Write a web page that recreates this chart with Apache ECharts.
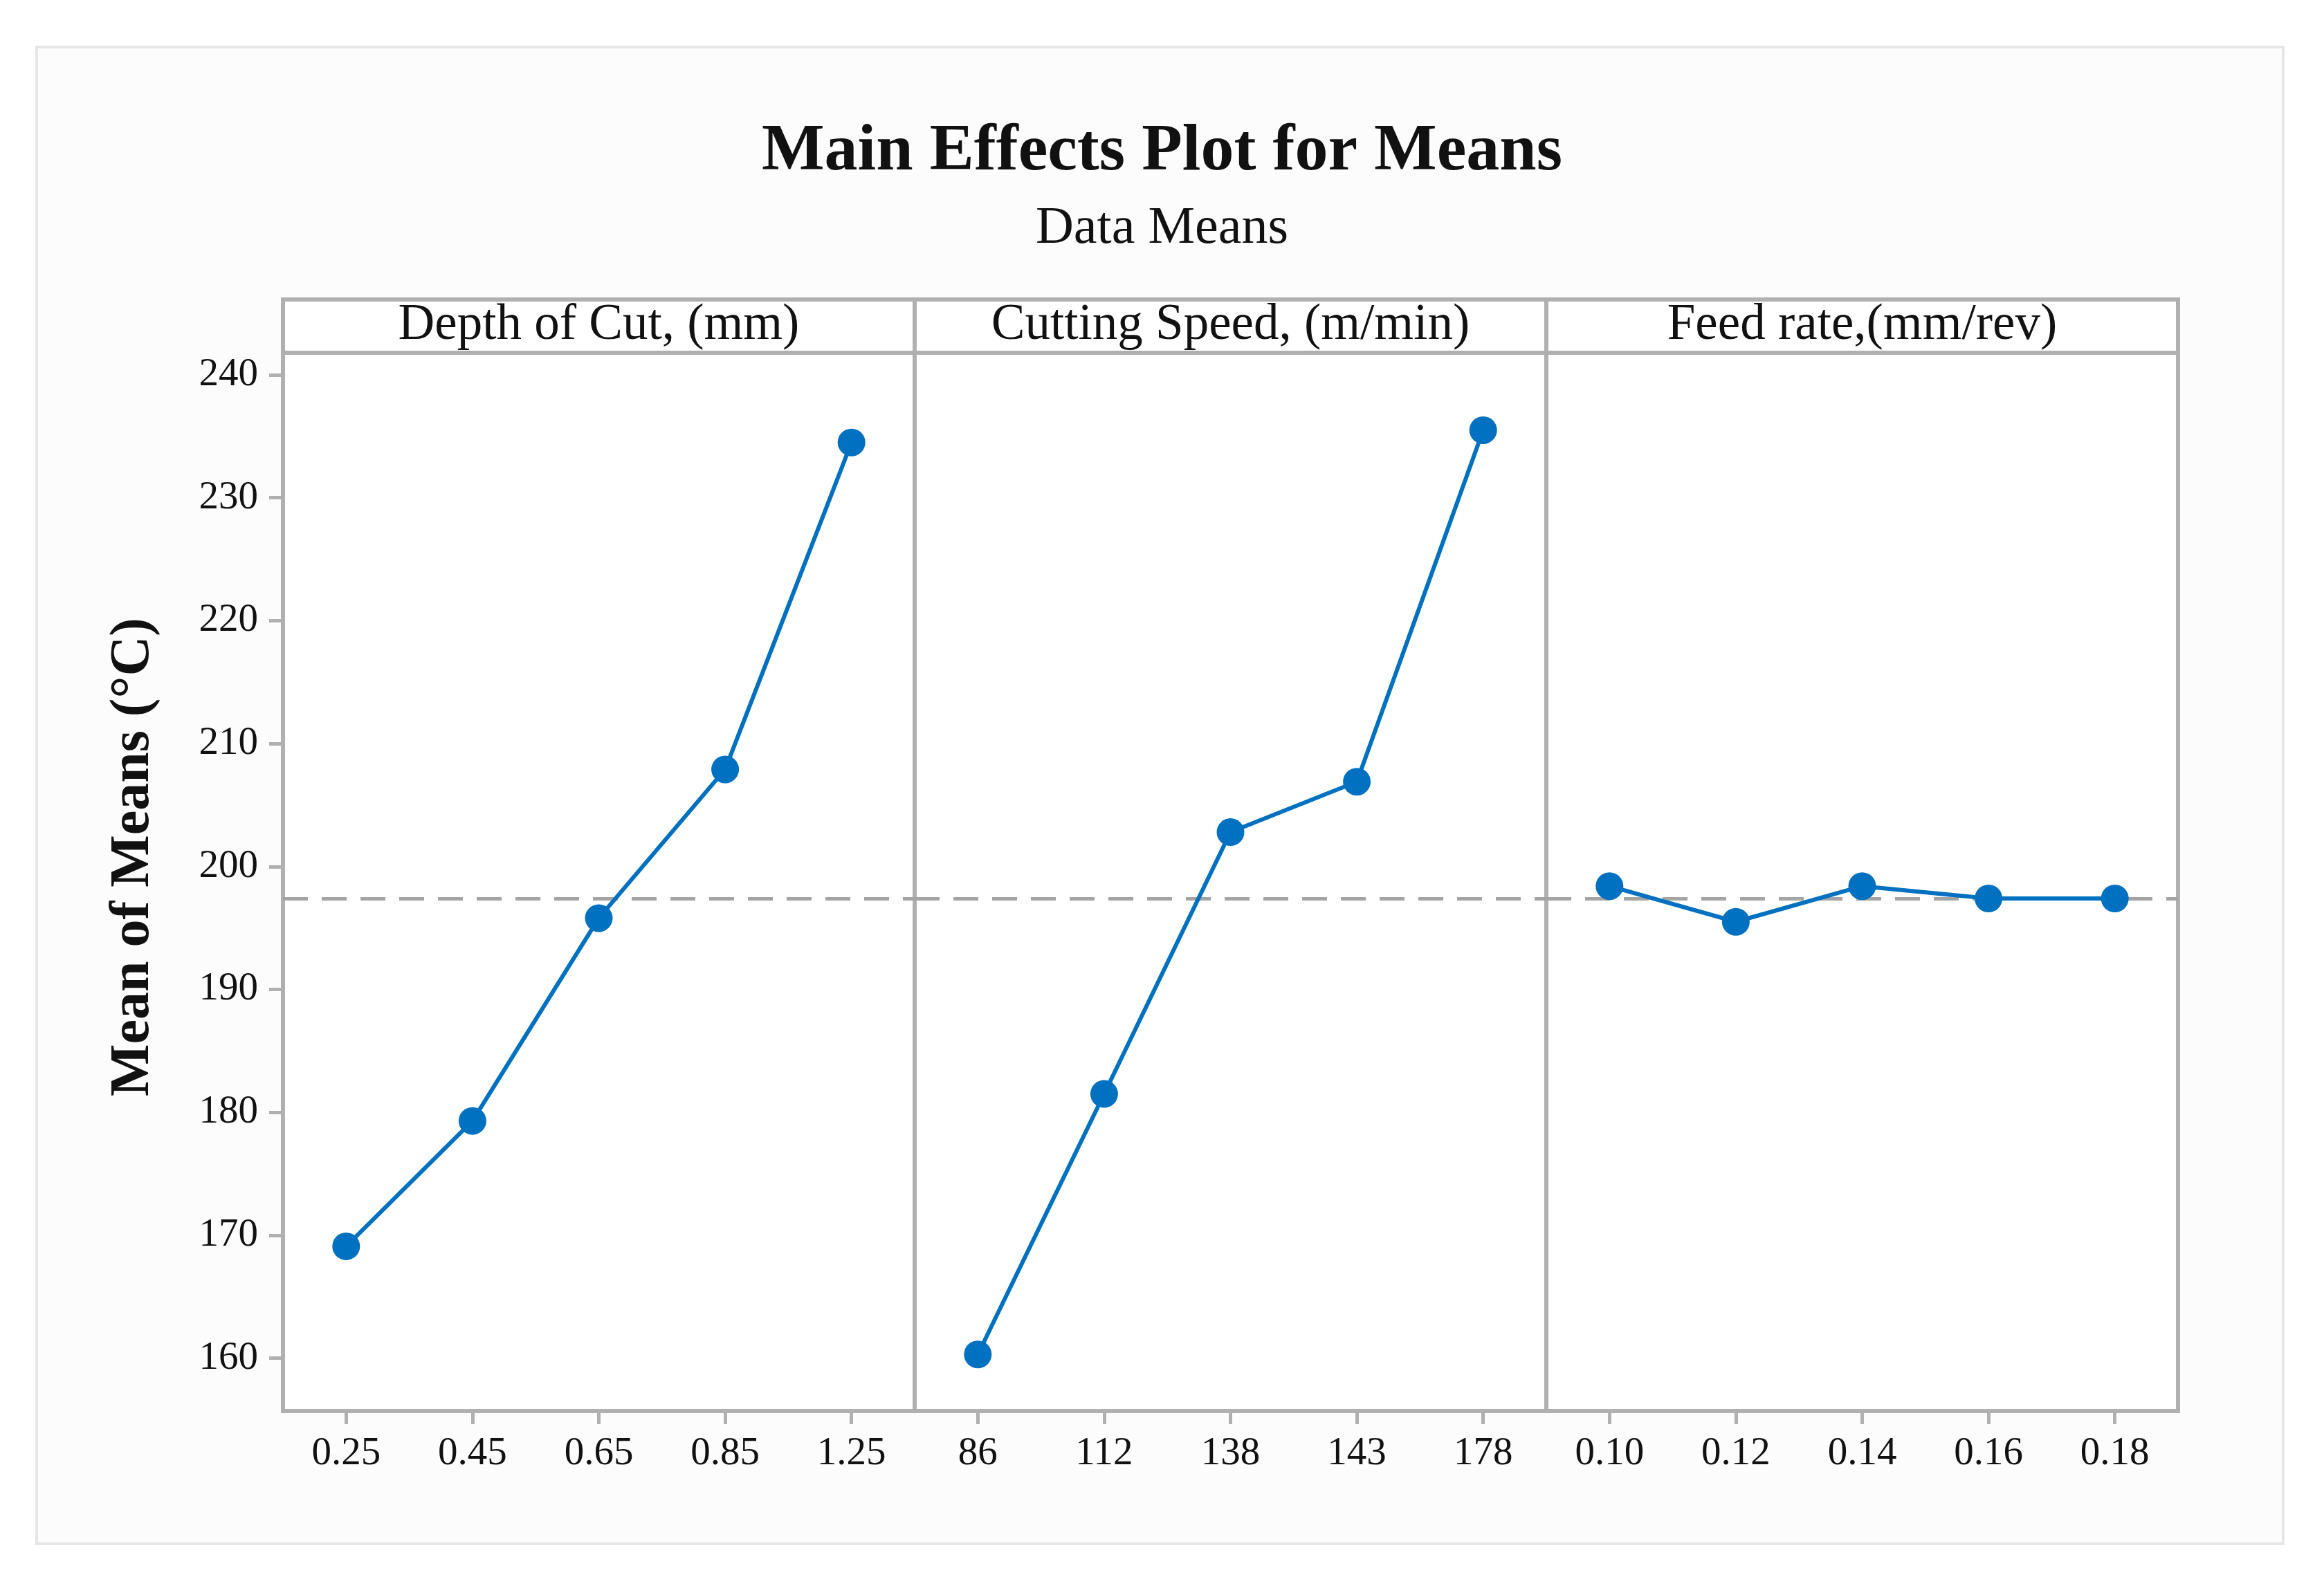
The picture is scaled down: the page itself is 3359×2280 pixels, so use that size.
<!DOCTYPE html>
<html><head><meta charset="utf-8">
<script src="https://cdn.jsdelivr.net/npm/echarts@6/dist/echarts.min.js"></script>
<style>html,body{margin:0;padding:0;background:#fff}#c{width:3359px;height:2280px}</style>
</head><body><div id="c"></div>
<script>
// ---- data ----
const chartTitle = 'Main Effects Plot for Means';
const chartSubtitle = 'Data Means';
const yAxisTitle = 'Mean of Means (°C)';
const factorNames = ['Depth of Cut, (mm)', 'Cutting Speed, (m/min)', 'Feed rate,(mm/rev)'];
const depthLevels = ['0.25', '0.45', '0.65', '0.85', '1.25'];
const speedLevels = ['86', '112', '138', '143', '178'];
const feedLevels = ['0.10', '0.12', '0.14', '0.16', '0.18'];
const depthMeans = [169.1, 179.3, 195.8, 207.9, 234.5];
const speedMeans = [160.3, 181.5, 202.8, 206.9, 235.5];
const feedMeans = [198.4, 195.5, 198.4, 197.4, 197.4];
const yTicks = [160, 170, 180, 190, 200, 210, 220, 230, 240];
const yMin = 155.7, yMax = 241.8;

// ---- build ----
const levels = [depthLevels, speedLevels, feedLevels];
const means = [depthMeans, speedMeans, feedMeans];
const all = [].concat(depthMeans, speedMeans, feedMeans);
const grandMean = all.reduce((a, b) => a + b, 0) / all.length;

const FONT = '"Liberation Serif", "Times New Roman", serif';
const GRAY = '#b0b0b0';
const BLUE = '#0070c0';
const PL = 409, PR = 3148, PT = 510, PB = 2040, HT = 433;
const W = (PR - PL) / 3;

const grids = [], xAxes = [], yAxes = [], series = [];
for (let i = 0; i < 3; i++) {
  grids.push({ left: PL + i * W, top: PT, width: W, height: PB - PT, show: true,
    backgroundColor: '#ffffff', borderColor: GRAY, borderWidth: 6 });
  xAxes.push({ type: 'category', gridIndex: i, data: levels[i], boundaryGap: true,
    axisLine: { show: true, lineStyle: { color: GRAY, width: 6 } },
    axisTick: { show: true, alignWithLabel: true, interval: 0, length: 19, lineStyle: { color: GRAY, width: 5 } },
    axisLabel: { interval: 0, fontFamily: FONT, fontSize: 57, color: '#111', margin: 34 },
    splitLine: { show: false } });
  yAxes.push({ type: 'value', gridIndex: i, min: yMin, max: yMax,
    axisLine: { show: i === 0, lineStyle: { color: GRAY, width: 6 } },
    axisTick: { show: i === 0, customValues: yTicks, length: 20, lineStyle: { color: GRAY, width: 5 } },
    axisLabel: { show: i === 0, customValues: yTicks, fontFamily: FONT, fontSize: 57, color: '#111', margin: 36 },
    splitLine: { show: false } });
  series.push({ type: 'line', xAxisIndex: i, yAxisIndex: i, data: [], z: 1, silent: true,
    markLine: { z: 1, silent: true, symbol: ['none', 'none'], label: { show: false },
      lineStyle: { color: '#a4a4a4', type: [36, 20], width: 5 },
      data: [{ yAxis: grandMean }] } });
  series.push({ type: 'line', xAxisIndex: i, yAxisIndex: i, data: means[i], z: 3,
    symbol: 'circle', symbolSize: 40, lineStyle: { color: BLUE, width: 6 },
    itemStyle: { color: BLUE }, animation: false });
}

const graphics = [
  { type: 'rect', z: -10, shape: { x: 53, y: 68, width: 3247, height: 2164 },
    style: { fill: '#fcfcfc', stroke: '#e6e6e6', lineWidth: 4 } },
  { type: 'rect', shape: { x: PL, y: HT, width: PR - PL, height: PT - HT },
    style: { fill: '#ffffff', stroke: GRAY, lineWidth: 6 } },
  { type: 'line', shape: { x1: PL + W, y1: HT, x2: PL + W, y2: PT }, style: { stroke: GRAY, lineWidth: 6 } },
  { type: 'line', shape: { x1: PL + 2 * W, y1: HT, x2: PL + 2 * W, y2: PT }, style: { stroke: GRAY, lineWidth: 6 } },
  { type: 'text', x: 193, y: 1239, rotation: Math.PI / 2,
    style: { text: yAxisTitle, font: 'bold 80px ' + FONT, fill: '#111', align: 'center', verticalAlign: 'middle' } }
];
factorNames.forEach((name, i) => {
  graphics.push({ type: 'text', x: PL + (i + 0.5) * W, y: 471,
    style: { text: name, font: '73px ' + FONT, fill: '#111', align: 'center', verticalAlign: 'middle' } });
});

const chart = echarts.init(document.getElementById('c'));
chart.setOption({
  animation: false,
  backgroundColor: '#ffffff',
  title: [
    { text: chartTitle, left: 'center', top: 167,
      textStyle: { fontFamily: FONT, fontWeight: 'bold', fontSize: 96, color: '#111' } },
    { text: chartSubtitle, left: 'center', top: 288,
      textStyle: { fontFamily: FONT, fontWeight: 'normal', fontSize: 76, color: '#111' } }
  ],
  grid: grids, xAxis: xAxes, yAxis: yAxes, series: series, graphic: graphics
});
</script></body></html>
